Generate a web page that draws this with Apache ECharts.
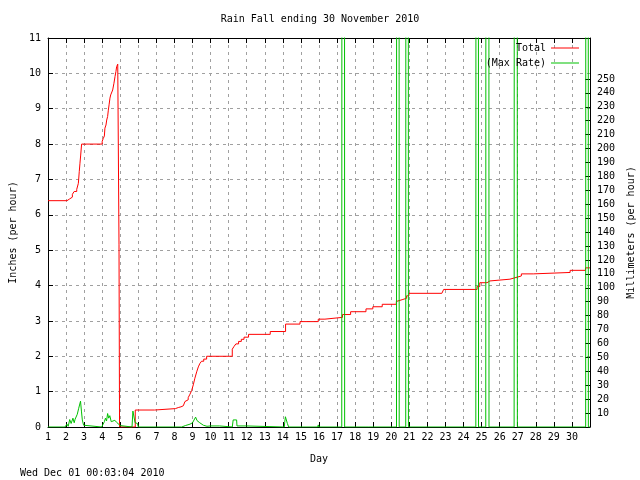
<!DOCTYPE html>
<html><head><meta charset="utf-8">
<script src="https://cdn.jsdelivr.net/npm/echarts@6/dist/echarts.min.js"></script>
<style>html,body{margin:0;padding:0;background:#fff}#c{width:640px;height:480px}</style>
</head><body><div id="c"></div>
<script>
const titleText = 'Rain Fall ending 30 November 2010';
const stampText = 'Wed Dec 01 00:03:04 2010';
const xName = 'Day';
const yName = 'Inches (per hour)';
const y2Name = 'Millimeters (per hour)';
const seriesNames = ['Total', '(Max Rate)'];
const mmTicks = [10,20,30,40,50,60,70,80,90,100,110,120,130,140,150,160,170,180,190,200,210,220,230,240,250];

// [day, inches] cumulative total
const totalInches = [
 [1,6.4],[2.05,6.45],[2.2,6.5],[2.35,6.58],[2.45,6.66],[2.59,6.72],[2.68,6.89],[2.73,7.22],[2.77,7.46],[2.81,7.69],[2.86,8.0],
 [4.0,8.08],[4.06,8.16],[4.12,8.23],[4.15,8.45],[4.21,8.54],[4.25,8.68],[4.3,8.78],[4.34,8.96],[4.38,9.11],[4.43,9.3],[4.47,9.39],
 [4.53,9.44],[4.58,9.53],[4.65,9.72],[4.71,9.91],[4.76,10.05],[4.8,10.19],[4.86,10.26],[4.93,5.15],[4.96,0],
 [5.83,0.48],[6.9,0.52],[8.05,0.55],[8.21,0.57],[8.36,0.6],[8.49,0.65],[8.58,0.72],[8.68,0.77],[8.76,0.83],[8.86,0.93],[8.95,1.03],
 [9.04,1.19],[9.13,1.38],[9.23,1.56],[9.32,1.7],[9.41,1.8],[9.5,1.86],[9.62,1.92],[9.78,2.0],
 [11.2,2.2],[11.3,2.28],[11.4,2.35],[11.55,2.42],[11.7,2.48],[11.85,2.54],[12.1,2.62],[13.3,2.7],[14.15,2.91],[14.95,2.98],
 [15.96,3.05],[16.33,3.1],[17.3,3.18],[17.75,3.26],[18.6,3.34],[18.98,3.4],[19.5,3.47],[20.28,3.55],[20.33,3.6],[20.6,3.64],
 [20.85,3.71],[20.98,3.78],[22.8,3.83],[22.9,3.89],[24.75,3.97],[24.9,4.08],[25.3,4.13],[25.46,4.18],[26.57,4.22],[26.85,4.27],
 [27.2,4.33],[27.86,4.37],[29.9,4.43],[30.75,4.5],[31,4.5]
];

// [day, inches per hour] max rate
const maxRate = [
 [1,0],[1.94,0],[2.05,0.08],[2.12,0.02],[2.2,0.21],[2.28,0.1],[2.38,0.25],[2.45,0.12],[2.5,0.22],[2.58,0.18],[2.62,0.36],[2.7,0.53],
 [2.8,0.73],[2.85,0.45],[2.9,0.2],[2.97,0.05],[3.05,0],
 [3.97,0],[4.05,0.08],[4.12,0.15],[4.18,0.25],[4.24,0.17],[4.3,0.38],[4.36,0.25],[4.42,0.32],[4.5,0.15],[4.6,0.13],[4.7,0.19],
 [4.8,0.13],[4.9,0.08],[5.0,0.04],[5.08,0],
 [5.65,0],[5.7,0.45],[5.82,0.12],[5.95,0.1],[6.0,0],
 [8.4,0],[8.6,0.04],[8.86,0.08],[9.0,0.12],[9.17,0.28],[9.25,0.18],[9.4,0.12],[9.6,0.05],[9.8,0.02],[9.9,0],
 [10.0,0.03],[10.5,0.03],[10.55,0],
 [11.2,0],[11.25,0.2],[11.44,0.2],[11.46,0.03],[12.0,0.03],[12.02,0],
 [14.08,0],[14.1,0.12],[14.14,0.29],[14.22,0.29],[14.25,0.1],[14.32,0],
 [15.93,0],[15.96,0.06],[15.99,0],
 [17.26,0],[17.27,20],[17.41,20],[17.42,0],
 [18.6,0],[18.62,0.02],[18.7,0.02],[18.72,0],
 [20.29,0],[20.3,20],[20.43,20],[20.44,0],
 [20.8,0],[20.81,20],[20.94,20],[20.95,0],
 [24.68,0],[24.69,20],[24.82,20],[24.83,0],
 [25.23,0],[25.24,20],[25.4,20],[25.41,0],
 [26.8,0],[26.81,20],[26.97,20],[26.98,0],
 [30.76,0],[30.77,20],[30.9,20],[30.91,0],[31,0]
];

const FONT = 'DejaVu Sans Mono';
const txt = {fontFamily: FONT, fontSize: 10, color: '#000', fontWeight: 'normal'};
const gridLine = {show: true, lineStyle: {color: '#a0a0a0', width: 1, type: [3, 4]}};
const blackLine = {show: true, onZero: false, lineStyle: {color: '#000', width: 1}};
const inTick = {show: true, inside: true, length: 5, lineStyle: {color: '#000'}};

const chart = echarts.init(document.getElementById('c'), null, {renderer: 'canvas'});
chart.setOption({
  animation: false,
  backgroundColor: '#fff',
  title: [
    {text: titleText, left: 'center', top: 14, padding: 0, textStyle: txt},
    {text: stampText, left: 20, top: 468, padding: 0, textStyle: txt}
  ],
  legend: [
    {data: [seriesNames[0]], right: 61, top: 43, padding: 0, align: 'right', icon: 'rect',
     itemWidth: 28, itemHeight: 1, textStyle: txt, selectedMode: false},
    {data: [seriesNames[1]], right: 61, top: 58, padding: 0, align: 'right', icon: 'rect',
     itemWidth: 28, itemHeight: 1, textStyle: txt, selectedMode: false}
  ],
  grid: {left: 48, right: 50, top: 38, bottom: 53, containLabel: false, outerBoundsMode: 'none'},
  xAxis: [
    {type: 'value', min: 1, max: 31, interval: 1, position: 'bottom',
     name: xName, nameLocation: 'middle', nameGap: 27, nameTextStyle: txt,
     axisLine: blackLine, axisTick: inTick,
     axisLabel: Object.assign({margin: 5, formatter: v => (v >= 31 ? '' : String(v))}, txt),
     splitLine: gridLine},
    {type: 'value', min: 1, max: 31, interval: 1, position: 'top',
     axisLine: blackLine, axisTick: inTick, axisLabel: {show: false}, splitLine: {show: false}}
  ],
  yAxis: [
    {type: 'value', min: 0, max: 11, interval: 1, position: 'left',
     name: yName, nameLocation: 'middle', nameRotate: 90, nameGap: 30, nameTextStyle: txt,
     axisLine: blackLine, axisTick: inTick,
     axisLabel: Object.assign({margin: 7}, txt),
     splitLine: gridLine},
    {type: 'value', min: 0, max: 279.4, position: 'right',
     name: y2Name, nameLocation: 'middle', nameRotate: 90, nameGap: 33, nameTextStyle: txt,
     axisLine: blackLine,
     axisTick: Object.assign({customValues: mmTicks}, inTick),
     axisLabel: Object.assign({margin: 7, customValues: mmTicks}, txt),
     splitLine: {show: false}}
  ],
  series: [
    {name: seriesNames[0], type: 'line', step: 'end', data: totalInches, xAxisIndex: 0, yAxisIndex: 0,
     symbol: 'none', clip: true, lineStyle: {color: '#ff0000', width: 1}, itemStyle: {color: '#ff0000'}},
    {name: seriesNames[1], type: 'line', data: maxRate, xAxisIndex: 0, yAxisIndex: 0,
     symbol: 'none', clip: true, lineStyle: {color: '#00c000', width: 1}, itemStyle: {color: '#00c000'}}
  ]
});
</script>
</body></html>
